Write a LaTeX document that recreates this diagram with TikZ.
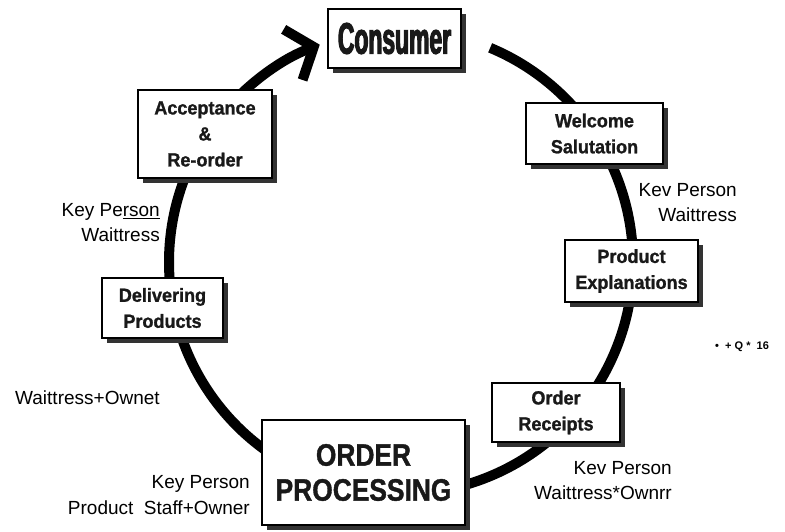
\documentclass[tikz,border=0pt]{standalone}
\usepackage{fontspec}
\setmainfont{Liberation Sans}
\newfontfamily\boxfont{Liberation Sans}[FakeStretch=0.95, FakeBold=1.2]
\newfontfamily\headfont{Liberation Sans}[FakeStretch=0.52, FakeBold=2.5]
\newfontfamily\procfont{Liberation Sans}[FakeStretch=0.85, FakeBold=1.2]
\usetikzlibrary{shadows,arrows.meta}

\begin{document}
\begin{tikzpicture}[x=1pt,y=-1pt,
  stage/.style={draw=black, line width=2pt, fill=white, inner sep=0pt, align=center,
    text=black!90,
    drop shadow={shadow xshift=5pt, shadow yshift=-5pt, fill=black!80, opacity=1}},
  smallstage/.style={stage, font=\boxfont\bfseries\fontsize{19}{26}\selectfont},
  role/.style={font=\fontsize{19}{25}\selectfont, align=right, inner sep=0pt},
  ring/.style={line width=10pt, black},
]
\useasboundingbox (0,0) rectangle (785,532);

% centre of the service cycle
\coordinate (c) at (401,262);

% ring segments (boxes are painted over their ends)
\draw[ring] ([shift={(-67.4:232)}]c) arc[start angle=-67.4, end angle=-38, radius=232];
\draw[ring] ([shift={(-30:232)}]c) arc[start angle=-30, end angle=0, radius=232];
\draw[ring] ([shift={(5:232)}]c) arc[start angle=5, end angle=36, radius=232];
\draw[ring] ([shift={(45:232)}]c) arc[start angle=45, end angle=77, radius=232];
\draw[ring] ([shift={(124:232)}]c) arc[start angle=124, end angle=166, radius=232];
\draw[ring] ([shift={(170:232)}]c) arc[start angle=170, end angle=206, radius=232];
\draw[ring, -{Straight Barb[length=22pt, width=54pt]}]
  ([shift={(222:232)}]c) arc[start angle=222, end angle=249.5, radius=232];

% stages
\node[stage, minimum width=133pt, minimum height=59pt,
      font=\headfont\bfseries\fontsize{44}{44}\selectfont] (consumer) at (394.5,38.5) {Consumer};
\node[smallstage, minimum width=137pt, minimum height=61pt] (welcome) at (594.5,133.5) {Welcome\\Salutation};
\node[smallstage, minimum width=133pt, minimum height=62pt] (explain) at (631.5,271) {Product\\Explanations};
\node[smallstage, minimum width=128pt, minimum height=59pt] (receipt) at (556,412.5) {Order\\Receipts};
\node[stage, minimum width=203pt, minimum height=105pt,
      font=\procfont\bfseries\fontsize{31}{35}\selectfont] (process) at (363.5,472.5) {ORDER\\PROCESSING};
\node[smallstage, minimum width=121pt, minimum height=60pt] (deliver) at (162.5,308) {Delivering\\Products};
\node[smallstage, minimum width=134pt, minimum height=88pt] (accept) at (205,134) {Acceptance\\\&\\Re-order};

% key persons
\node[role, anchor=east] (kpwelcome) at (737,202.5) {Kev Person\\Waittress};
\node[role, anchor=east] (kpaccept) at (160,222.5) {Key Pe\underline{rson}\\Waittress};
\node[role, anchor=west] (kpdeliver) at (15,398) {Waittress+Ownet};
\node[role, anchor=east, font=\fontsize{19}{26}\selectfont] (kpprocess) at (250,495) {Key Person\\Product\ \ Staff+Owner};
\node[role, anchor=east] (kpreceipt) at (672,480.5) {Kev Person\\Waittress*Ownrr};
\node[anchor=west, inner sep=0pt, font=\bfseries\fontsize{11}{13}\selectfont] (mark) at (715,347) {•\ \ +\ Q\ *\ \ 16};
\end{tikzpicture}
\end{document}
